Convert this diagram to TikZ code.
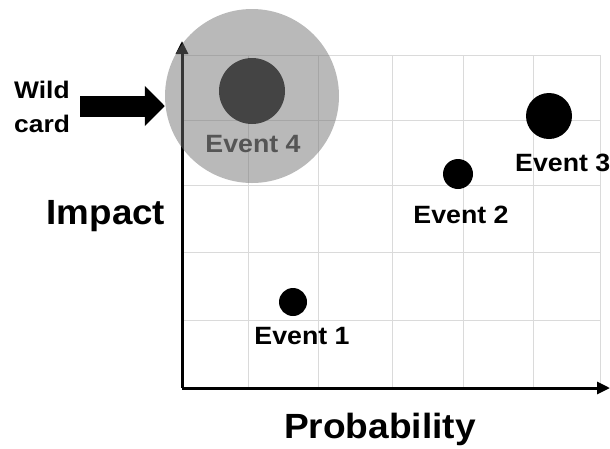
\documentclass[tikz,border=0pt]{standalone}
\usepackage{fontspec}
\setmainfont{Liberation Sans}
\usetikzlibrary{arrows.meta}
\definecolor{gridc}{HTML}{DADADA}
\definecolor{halo}{HTML}{707070}
\definecolor{darkdot}{HTML}{444444}
\definecolor{evfour}{HTML}{555555}
\newcommand\stx[2]{\scalebox{#1}[1]{#2}}
\begin{document}
\begin{tikzpicture}[x=1pt,y=-1pt,
  lbl/.style={inner sep=0pt,anchor=base,font=\fontsize{25}{25}\selectfont\bfseries},
  big/.style={inner sep=0pt,anchor=base,font=\fontsize{35}{35}\selectfont\bfseries},
  dot/.style={circle,fill=black,inner sep=0pt,minimum size=#1},
  axis/.style={line width=3pt,-{Triangle[length=13pt 0 0,width=12pt 0 0]}}]
\useasboundingbox (0,0) rectangle (610,448);
% grid
\foreach \y in {55,120,185,252,320}
  \draw[gridc,line width=1pt] (182,\y) -- (600,\y);
\foreach \x in {248,318,392,463,533,600}
  \draw[gridc,line width=1pt] (\x,55) -- (\x,388);
% axes
\coordinate (origin) at (182,388);
\coordinate (ytip) at (182,41);
\coordinate (xtip) at (610,388);
\draw[axis] (origin) -- (ytip);
\draw[axis] (origin) -- (xtip);
% wild card halo
\node[circle,fill=halo,fill opacity=0.49,inner sep=0pt,minimum size=174pt] (halo) at (252,96) {};
\node[circle,fill=darkdot,inner sep=0pt,minimum size=66pt] (e4) at (252,91) {};
\node[lbl,text=evfour] (e4l) at (253,152) {\stx{1.07}{Event 4}};
% wild card label and arrow
\node[inner sep=0pt,anchor=base west,font=\fontsize{24}{24}\selectfont\bfseries] (wild) at (14,98) {\stx{1.1}{Wild}};
\node[inner sep=0pt,anchor=base west,font=\fontsize{24}{24}\selectfont\bfseries] (card) at (14,132) {\stx{1.1}{card}};
\coordinate (wstart) at (80,106);
\draw[line width=21pt,-{Triangle[length=20pt 0 0,width=39pt 0 0]}] (wstart) -- (wstart -| halo.west);
% events
\node[dot=46pt] (e3) at (549,116) {};
\node[lbl,anchor=base west] (e3l) at (515,171) {\stx{1.07}{Event 3}};
\node[dot=30pt] (e2) at (458,174) {};
\node[lbl] (e2l) at (461,223) {\stx{1.07}{Event 2}};
\node[dot=28pt] (e1) at (293,302) {};
\node[lbl] (e1l) at (302,344) {\stx{1.07}{Event 1}};
% axis labels
\node[big] (imp) at (106,224) {\stx{1.05}{Impact}};
\node[big] (prob) at (380,438) {\stx{1.06}{Probability}};
\end{tikzpicture}
\end{document}
